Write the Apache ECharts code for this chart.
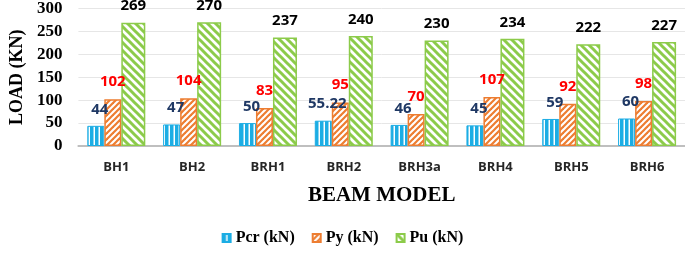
<!DOCTYPE html>
<html>
<head>
<meta charset="utf-8">
<script src="https://cdn.jsdelivr.net/npm/echarts@6/dist/echarts.min.js"></script>
<style>html,body{margin:0;padding:0;background:#fff;}#c{width:685px;height:254px;}</style>
</head>
<body>
<div id="c"></div>
<script>
const categories = ['BH1','BH2','BRH1','BRH2','BRH3a','BRH4','BRH5','BRH6'];
const pcr = [44, 47, 50, 55.22, 46, 45, 59, 60];
const py = [102, 104, 83, 95, 70, 107, 92, 98];
const pu = [269, 270, 237, 240, 230, 234, 222, 227];
const seriesNames = ['Pcr (kN)', 'Py (kN)', 'Pu (kN)'];
const yTicks = [0, 50, 100, 150, 200, 250, 300];

function vStripe(color){
  const c = document.createElement('canvas'); c.width = 5; c.height = 5;
  const g = c.getContext('2d');
  g.fillStyle = '#fff'; g.fillRect(0,0,5,5);
  g.fillStyle = color; g.fillRect(0,0,3.5,5);
  return {image: c, repeat: 'repeat'};
}
function diag(color, size, lw, forward){
  const c = document.createElement('canvas'); c.width = size; c.height = size;
  const g = c.getContext('2d');
  g.fillStyle = '#fff'; g.fillRect(0,0,size,size);
  g.strokeStyle = color; g.lineWidth = lw; g.lineCap = 'square';
  for (const o of [-size, 0, size]) {
    g.beginPath();
    if (forward) { g.moveTo(o, size); g.lineTo(o + size, 0); }
    else { g.moveTo(o, 0); g.lineTo(o + size, size); }
    g.stroke();
  }
  return {image: c, repeat: 'repeat'};
}
const blue = '#1CADE4', orange = '#ED7D31', green = '#8CCB4A';
const labelFont = {fontFamily: 'Open Sans', fontWeight: 'bold', fontSize: 15};

const chart = echarts.init(document.getElementById('c'));
chart.setOption({
  animation: false,
  grid: {left: 68, right: 0, top: 8, bottom: 108},
  legend: {
    data: seriesNames, bottom: 3, left: 'center', icon: 'rect', itemWidth: 8, itemHeight: 8, itemGap: 17,
    textStyle: {fontFamily: 'Liberation Serif', fontWeight: 'bold', fontSize: 16, color: '#000'}
  },
  xAxis: {
    type: 'category', data: categories,
    name: 'BEAM MODEL', nameLocation: 'middle', nameGap: 39,
    nameTextStyle: {fontFamily: 'Liberation Serif', fontWeight: 'bold', fontSize: 21, color: '#000'},
    axisLine: {lineStyle: {color: '#BFBFBF', width: 2}},
    axisTick: {show: false},
    axisLabel: {margin: 15, fontFamily: 'Open Sans', fontWeight: 'bold', fontSize: 13, color: '#262626'}
  },
  yAxis: {
    type: 'value', min: yTicks[0], max: yTicks[yTicks.length-1], interval: 50,
    name: 'LOAD (KN)', nameLocation: 'middle', nameGap: 48,
    nameTextStyle: {fontFamily: 'Liberation Serif', fontWeight: 'bold', fontSize: 18, color: '#000'},
    axisLine: {show: false}, axisTick: {show: false},
    axisLabel: {margin: 16, fontFamily: 'Liberation Serif', fontWeight: 'bold', fontSize: 17, color: '#000'},
    splitLine: {lineStyle: {color: '#E6E6E6', width: 1}}
  },
  series: [
    {name: seriesNames[0], type: 'bar', data: pcr, barWidth: 17, barGap: '0%',
     itemStyle: {color: vStripe(blue), borderColor: blue, borderWidth: 1},
     label: {show: true, position: 'top', distance: 9, offset: [4, 0], color: '#1F3864', ...labelFont}},
    {name: seriesNames[1], type: 'bar', data: py, barWidth: 17, barGap: '0%',
     itemStyle: {color: diag(orange, 6, 2.2, true), borderColor: orange, borderWidth: 1.5},
     label: {show: true, position: 'top', distance: 10, color: '#FF0000', ...labelFont}},
    {name: seriesNames[2], type: 'bar', data: pu, barWidth: 24, barGap: '0%',
     itemStyle: {color: diag(green, 8, 3, false), borderColor: green, borderWidth: 1.5},
     label: {show: true, position: 'top', distance: 9, color: '#000', ...labelFont}}
  ]
});
</script>
</body>
</html>
